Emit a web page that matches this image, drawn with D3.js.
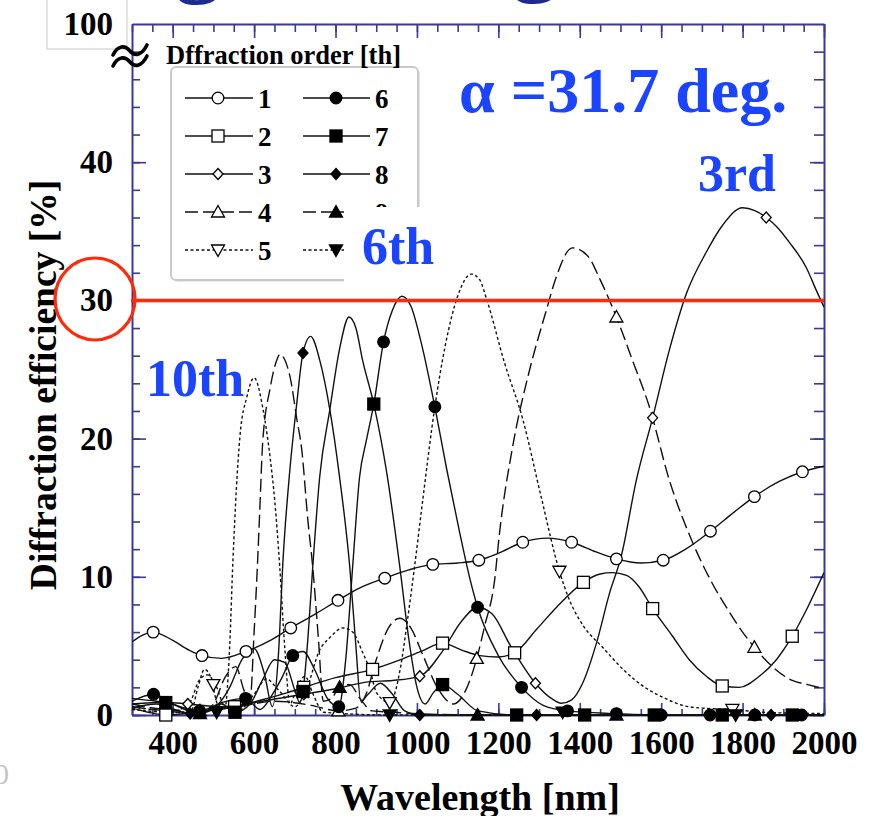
<!DOCTYPE html>
<html><head><meta charset="utf-8">
<script src="https://cdn.jsdelivr.net/npm/d3@7"></script>
<style>
html,body{margin:0;padding:0;background:#fff;}
svg{display:block;}
</style></head>
<body>
<svg id="chart" width="878" height="816"></svg>
<script>
// ---------------- data ----------------
const xTickLabels = [400, 600, 800, 1000, 1200, 1400, 1600, 1800, 2000];
const yTickLabels = [0, 10, 20, 30, 40];
const yTopLabel = "100";
const legendTitle = "Dffraction order [th]";
const orderNames = ["1","2","3","4","5","6","7","8","9","10"];

const ord1 = [[300,5.3],[352,6.0],[400,5.4],[440,4.7],[472,4.3],[520,4.1],[580,4.6],[640,5.4],[690,6.3],[750,7.3],[806,8.3],[860,9.2],[921,9.9],[980,10.5],[1039,10.9],[1100,11.0],[1152,11.2],[1200,11.7],[1260,12.5],[1320,12.8],[1380,12.5],[1440,11.8],[1490,11.3],[1550,11.0],[1605,11.2],[1660,12.0],[1721,13.3],[1780,14.7],[1829,15.8],[1890,16.9],[1947,17.6],[2000,18.0]];
const ord2 = [[300,0.5],[340,0.2],[383,0.0],[430,0.1],[480,0.3],[552,0.6],[620,1.1],[680,1.6],[722,2.0],[800,2.7],[891,3.3],[950,3.9],[1010,4.6],[1063,5.2],[1110,4.7],[1154,4.3],[1200,4.2],[1240,4.5],[1294,6.2],[1343,7.8],[1409,9.6],[1450,10.2],[1480,10.3],[1515,10.1],[1545,9.3],[1579,7.7],[1628,5.7],[1669,4.0],[1711,2.8],[1750,2.1],[1792,2.0],[1841,2.8],[1883,4.0],[1922,5.7],[1960,7.8],[2000,10.3]];
const ord3 = [[300,1.2],[360,1.0],[437,0.8],[520,0.6],[600,0.9],[680,1.3],[722,1.5],[800,1.9],[880,2.4],[940,2.5],[1007,2.8],[1060,4.5],[1110,6.8],[1149,7.8],[1185,7.3],[1230,5.0],[1291,2.3],[1330,1.2],[1355,0.85],[1380,1.1],[1407,2.3],[1441,5.2],[1473,8.8],[1502,11.5],[1539,17.0],[1579,21.5],[1620,26.4],[1662,30.5],[1711,33.5],[1750,35.4],[1800,36.7],[1830,36.5],[1858,36.0],[1885,35.3],[1915,34.2],[1956,32.4],[1983,30.6],[2000,29.5]];
const ord4 = [[300,0.8],[380,0.4],[467,0.3],[560,0.6],[650,1.0],[740,0.7],[807,0.3],[850,0.5],[875,1.5],[900,4.0],[930,6.3],[958,7.0],[985,6.3],[1015,4.3],[1050,2.0],[1090,0.8],[1120,1.8],[1147,4.1],[1166,6.4],[1191,9.8],[1203,13.2],[1235,19.4],[1277,25.0],[1318,29.3],[1340,31.5],[1382,33.8],[1420,33.2],[1450,31.5],[1490,28.8],[1529,25.7],[1571,22.3],[1620,17.0],[1677,12.5],[1726,9.5],[1760,7.8],[1800,6.0],[1829,4.9],[1873,3.5],[1922,2.5],[1960,2.2],[2000,1.9]];
const ord5 = [[300,0.6],[400,0.3],[440,0.8],[465,2.5],[485,2.9],[505,2.2],[530,0.5],[560,0.3],[600,1.5],[630,2.6],[660,1.8],[700,0.6],[730,2.0],[761,4.7],[786,5.6],[818,6.3],[842,6.0],[867,4.5],[884,3.3],[901,1.6],[933,0.9],[960,3.5],[975,6.5],[994,10.7],[1014,15.5],[1044,22.3],[1070,26.8],[1100,30.3],[1134,31.9],[1154,31.5],[1171,30.1],[1215,25.5],[1260,21.4],[1305,15.8],[1350,10.4],[1375,8.3],[1410,6.4],[1456,4.9],[1510,3.2],[1560,2.0],[1610,1.2],[1652,0.7],[1700,0.5],[1775,0.4],[1850,0.2],[2000,0.1]];
const ord6 = [[300,1.0],[353,1.5],[400,0.8],[466,0.3],[520,0.9],[579,1.2],[615,0.4],[645,1.5],[670,2.8],[695,4.3],[720,4.6],[750,3.2],[780,1.2],[808,0.6],[825,4.0],[842,10.7],[859,17.2],[876,19.9],[894,22.5],[918,27.0],[940,29.3],[963,30.3],[985,29.6],[1010,27.0],[1044,22.3],[1073,17.8],[1105,13.2],[1129,10.0],[1149,7.8],[1200,4.3],[1257,2.0],[1310,0.7],[1370,0.3],[1490,0.1],[1600,0.0],[2000,0.0]];
const ord7 = [[300,0.8],[383,0.9],[430,0.4],[480,0.2],[520,0.8],[553,0.2],[590,0.8],[620,2.5],[650,4.0],[675,3.8],[700,1.8],[712,0.9],[720,1.7],[732,5.5],[744,10.7],[761,17.2],[786,22.1],[810,26.5],[833,28.8],[850,28.0],[867,25.6],[894,22.5],[926,17.5],[958,10.7],[980,5.5],[1000,2.0],[1020,0.8],[1040,1.6],[1063,2.2],[1100,1.5],[1150,0.3],[1245,0.0],[2000,0.0]];
const ord8 = [[300,0.5],[360,0.8],[443,0.1],[500,0.5],[540,2.0],[570,4.0],[600,4.8],[625,3.0],[645,0.6],[660,4.5],[671,11.2],[688,17.8],[705,22.6],[720,26.2],[739,27.4],[761,25.7],[786,22.1],[810,17.2],[835,10.7],[850,5.0],[862,1.0],[880,1.5],[910,2.3],[940,1.5],[970,0.3],[1007,0.0],[2000,0.0]];
const ord9 = [[300,0.6],[380,0.3],[467,0.1],[500,0.8],[530,2.8],[555,3.5],[575,1.8],[590,1.0],[600,6.0],[609,11.4],[614,14.9],[621,19.7],[639,23.6],[656,25.7],[663,26.1],[688,24.5],[705,21.4],[717,19.2],[732,14.1],[744,10.7],[758,5.5],[770,1.0],[790,1.2],[810,2.0],[835,2.2],[860,1.2],[890,0.3],[1149,0.0],[2000,0.0]];
const ord10 = [[300,0.4],[400,0.2],[445,0.3],[462,2.0],[478,3.3],[495,2.6],[510,0.8],[528,0.5],[540,5.0],[548,11.2],[565,20.1],[582,23.0],[600,24.4],[622,22.1],[639,18.7],[651,15.4],[663,10.7],[675,5.0],[688,0.8],[705,2.0],[725,2.8],[745,1.5],[770,0.2],[933,0.0],[2000,0.0]];

const mk1 = [[352,6.0],[472,4.3],[580,4.6],[690,6.3],[806,8.3],[921,9.9],[1039,10.9],[1152,11.2],[1260,12.5],[1380,12.5],[1490,11.3],[1605,11.2],[1721,13.3],[1829,15.8],[1947,17.6]];
const mk2 = [[383,0.0],[552,0.6],[722,2.0],[891,3.3],[1063,5.2],[1240,4.5],[1409,9.6],[1579,7.7],[1750,2.1],[1922,5.7]];
const mk3 = [[437,0.8],[722,1.5],[1007,2.8],[1291,2.3],[1579,21.5],[1858,36.0]];
const mk4 = [[467,0.3],[807,0.3],[1147,4.1],[1490,28.8],[1829,4.9]];
const mk5 = [[500,2.2],[933,0.9],[1350,10.4],[1775,0.4]];
const mk6 = [[353,1.5],[466,0.3],[579,1.2],[695,4.3],[808,0.6],[918,27.0],[1044,22.3],[1149,7.8],[1257,2.0],[1370,0.3],[1490,0.1],[1600,0.0],[1720,0.0],[1830,0.0],[1945,0.0]];
const mk7 = [[383,0.9],[553,0.2],[720,1.7],[894,22.5],[1063,2.2],[1245,0.0],[1412,0.0],[1583,0.0],[1750,0.0],[1922,0.0]];
const mk8 = [[443,0.1],[720,26.2],[1007,0.0],[1294,0.0],[1580,0.0],[1870,0.0]];
const mk9 = [[467,0.1],[810,2.0],[1149,0.0],[1490,0.0],[1830,0.0]];
const mk10 = [[508,0.2],[933,0.0],[1358,0.2],[1783,0.0]];

// ---------------- setup ----------------
const serif = "'Liberation Serif','Times New Roman',Times,serif";
const blue = "#1a44ff";
const navy = "#3a3a96";
const svg = d3.select("#chart");

const x = d3.scaleLinear().domain([300, 2000]).range([132, 824]);
const y = d3.scaleLinear().domain([0, 50]).range([715, 24]);

const series = [
  {data: ord1, marks: mk1, dash: null, shape: "circle", filled: false},
  {data: ord2, marks: mk2, dash: null, shape: "square", filled: false},
  {data: ord3, marks: mk3, dash: null, shape: "diamond", filled: false},
  {data: ord4, marks: mk4, dash: "13,5", shape: "tri", filled: false},
  {data: ord5, marks: mk5, dash: "3,2.5", shape: "triDown", filled: false},
  {data: ord6, marks: mk6, dash: null, shape: "circle", filled: true},
  {data: ord7, marks: mk7, dash: null, shape: "square", filled: true},
  {data: ord8, marks: mk8, dash: null, shape: "diamond", filled: true},
  {data: ord9, marks: mk9, dash: "13,5", shape: "tri", filled: true},
  {data: ord10, marks: mk10, dash: "3,2.5", shape: "triDown", filled: true}
];

// decorative remnants of a cropped title above the chart
svg.append("text").attr("x", 198).attr("y", -14).attr("text-anchor", "middle")
  .attr("font-family", serif).attr("font-weight", "bold").attr("font-size", 92).attr("fill", "#1c2a92").text("g");
svg.append("text").attr("x", 535).attr("y", -15).attr("text-anchor", "middle")
  .attr("font-family", serif).attr("font-weight", "bold").attr("font-size", 92).attr("fill", "#1c2a92").text("g");
// faint stray glyph bottom-left
svg.append("text").attr("x", -6).attr("y", 784).attr("font-family", serif).attr("font-size", 30)
  .attr("fill", "#c4c4c4").text("0");

// clip
svg.append("defs").append("clipPath").attr("id", "plotclip").append("rect")
  .attr("x", 132).attr("y", 24).attr("width", 692).attr("height", 693);

// ---------------- axes ----------------
function styleAxis(g, keepDomain) {
  g.selectAll("path.domain").attr("stroke", navy).attr("stroke-width", 2);
  if (!keepDomain) g.selectAll("path.domain").remove();
  g.selectAll(".tick line").attr("stroke", navy).attr("stroke-width", 1.6);
  g.selectAll(".tick text").attr("font-family", serif).attr("font-weight", "bold")
    .attr("font-size", 33).attr("fill", "#000");
}
const xMinor = d3.range(300, 2001, 50);
const xMajor = d3.range(400, 2001, 200);
const yMinor = d3.range(0, 49, 2);

// bottom
svg.append("g").attr("transform", `translate(0,${y(0)})`)
  .call(d3.axisBottom(x).tickValues(xMinor).tickSize(-6).tickSizeOuter(0).tickFormat(""))
  .call(g => styleAxis(g, false));
svg.append("g").attr("transform", `translate(0,${y(0)})`)
  .call(d3.axisBottom(x).tickValues(xTickLabels).tickSize(-12).tickSizeOuter(0).tickPadding(16).tickFormat(d3.format("d")))
  .call(g => styleAxis(g, true));
// top
svg.append("g").attr("transform", `translate(0,${y(50)})`)
  .call(d3.axisTop(x).tickValues(xMinor).tickSize(-8).tickSizeOuter(0).tickFormat(""))
  .call(g => styleAxis(g, true));
svg.append("g").attr("transform", `translate(0,${y(50)})`)
  .call(d3.axisTop(x).tickValues(xMajor).tickSize(-14).tickSizeOuter(0).tickFormat(""))
  .call(g => styleAxis(g, false));
// left
svg.append("g").attr("transform", `translate(${x(300)},0)`)
  .call(d3.axisLeft(y).tickValues(yMinor).tickSize(-8).tickSizeOuter(0).tickFormat(""))
  .call(g => styleAxis(g, true));
svg.append("g").attr("transform", `translate(${x(300)},0)`)
  .call(d3.axisLeft(y).tickValues(yTickLabels).tickSize(-14).tickSizeOuter(0).tickPadding(19).tickFormat(d3.format("d")))
  .call(g => styleAxis(g, false));
// right
svg.append("g").attr("transform", `translate(${x(2000)},0)`)
  .call(d3.axisRight(y).tickValues(yMinor).tickSize(-10).tickSizeOuter(0).tickFormat(""))
  .call(g => styleAxis(g, true));
svg.append("g").attr("transform", `translate(${x(2000)},0)`)
  .call(d3.axisRight(y).tickValues(yTickLabels).tickSize(-14).tickSizeOuter(0).tickFormat(""))
  .call(g => styleAxis(g, false));

// "100" boxed top label
svg.append("rect").attr("x", 47).attr("y", -3).attr("width", 80).attr("height", 52)
  .attr("fill", "#fff").attr("stroke", "#d2d2d2").attr("stroke-width", 1.2);
svg.append("text").attr("x", 113).attr("y", 35).attr("text-anchor", "end")
  .attr("font-family", serif).attr("font-weight", "bold").attr("font-size", 33).text(yTopLabel);

// axis break symbol
const brk = svg.append("g").attr("fill", "none").attr("stroke", "#000").attr("stroke-width", 3.6).attr("stroke-linecap", "round");
brk.append("path").attr("d", "M113,55 C118,45 125,45 130,51 C135,57 142,55 147,45");
brk.append("path").attr("d", "M113,66 C118,56 125,56 130,62 C135,68 142,66 147,56");

// axis titles
svg.append("text").attr("x", 480).attr("y", 810).attr("text-anchor", "middle")
  .attr("font-family", serif).attr("font-weight", "bold").attr("font-size", 38).text("Wavelength [nm]");
svg.append("text").attr("transform", "translate(56,385) rotate(-90)").attr("text-anchor", "middle")
  .attr("font-family", serif).attr("font-weight", "bold").attr("font-size", 37.5).text("Diffraction efficiency [%]");

// ---------------- curves ----------------
const line = d3.line().x(d => x(d[0])).y(d => y(d[1])).curve(d3.curveMonotoneX);
const plot = svg.append("g").attr("clip-path", "url(#plotclip)");
series.forEach(s => {
  plot.append("path").attr("d", line(s.data)).attr("fill", "none").attr("stroke", "#111")
    .attr("stroke-width", 1.4).attr("stroke-dasharray", s.dash);
});

function drawMarker(g, shape, filled, cx, cy, scale) {
  const k = scale || 1;
  const fill = filled ? "#000" : "#fff";
  let el;
  if (shape === "circle") el = g.append("circle").attr("cx", cx).attr("cy", cy).attr("r", 5.8 * k);
  else if (shape === "square") el = g.append("rect").attr("x", cx - 6 * k).attr("y", cy - 6 * k).attr("width", 12 * k).attr("height", 12 * k);
  else if (shape === "diamond") el = g.append("path").attr("d", `M${cx},${cy - 5.5 * k}L${cx + 5 * k},${cy}L${cx},${cy + 5.5 * k}L${cx - 5 * k},${cy}Z`);
  else if (shape === "tri") el = g.append("path").attr("d", `M${cx},${cy - 6.5 * k}L${cx + 6.5 * k},${cy + 5 * k}L${cx - 6.5 * k},${cy + 5 * k}Z`);
  else el = g.append("path").attr("d", `M${cx},${cy + 6.5 * k}L${cx + 6.5 * k},${cy - 5 * k}L${cx - 6.5 * k},${cy - 5 * k}Z`);
  el.attr("fill", fill).attr("stroke", "#000").attr("stroke-width", 1.3);
}
const mg = svg.append("g");
series.forEach(s => {
  s.marks.forEach(m => drawMarker(mg, s.shape, s.filled, x(m[0]), y(m[1]), 1));
});

// ---------------- 30% highlight ----------------
svg.append("line").attr("x1", 131).attr("x2", x(2000)).attr("y1", y(30)).attr("y2", y(30))
  .attr("stroke", "#ff2a0a").attr("stroke-width", 3.5);
svg.append("ellipse").attr("cx", 95).attr("cy", 299).attr("rx", 40).attr("ry", 41)
  .attr("fill", "none").attr("stroke", "#ff2a0a").attr("stroke-width", 3.2);

// ---------------- legend ----------------
const lg = svg.append("g");
lg.append("rect").attr("x", 173).attr("y", 69).attr("width", 247).attr("height", 213).attr("rx", 5)
  .attr("fill", "#e6e6e6").attr("stroke", "none");
lg.append("rect").attr("x", 171).attr("y", 67).attr("width", 247).attr("height", 213).attr("rx", 5)
  .attr("fill", "#fff").attr("stroke", "#c9c9c9").attr("stroke-width", 2);
lg.append("text").attr("x", 166).attr("y", 64).attr("font-family", serif).attr("font-weight", "bold")
  .attr("font-size", 26.5).text(legendTitle);
const rowY = [98, 136, 174, 212, 250];
series.forEach((s, i) => {
  const col = i < 5 ? 0 : 1;
  const r = i % 5;
  const x0 = col === 0 ? 185 : 303, x1 = col === 0 ? 253 : 370, xm = col === 0 ? 218 : 336;
  const ly = rowY[r];
  lg.append("line").attr("x1", x0).attr("x2", x1).attr("y1", ly).attr("y2", ly)
    .attr("stroke", "#111").attr("stroke-width", 1.6).attr("stroke-dasharray", s.dash);
  drawMarker(lg, s.shape, s.filled, xm, ly, 1);
  lg.append("text").attr("x", x1 + 5).attr("y", ly + 10).attr("font-family", serif).attr("font-weight", "bold")
    .attr("font-size", 27).text(orderNames[i]);
});

// ---------------- blue annotations ----------------
svg.append("rect").attr("x", 344).attr("y", 207).attr("width", 100).attr("height", 82).attr("fill", "#fff");
function blueText(t, xx, yy, fs) {
  svg.append("text").attr("x", xx).attr("y", yy).attr("font-family", serif).attr("font-weight", "bold")
    .attr("font-size", fs).attr("fill", blue).text(t);
}
blueText("α =31.7 deg.", 459, 112, 64);
blueText("3rd", 698, 191, 52);
blueText("6th", 362, 264, 52);
blueText("10th", 146, 396, 52);
</script>
</body></html>
